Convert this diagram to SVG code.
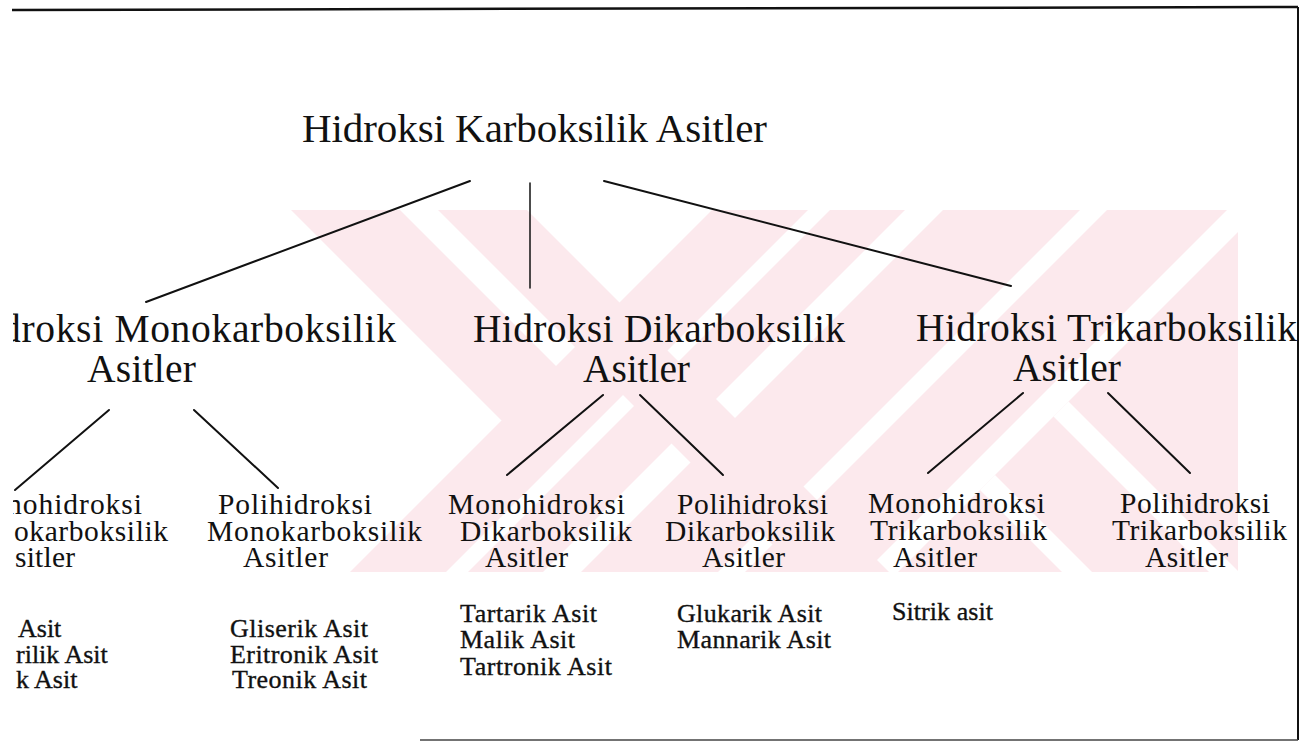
<svg xmlns="http://www.w3.org/2000/svg" width="1305" height="742" viewBox="0 0 1305 742">
<style>
.t{font-family:'Liberation Serif','DejaVu Serif',serif;fill:#111}
.l1{font-size:41px}
.l2{font-size:39.5px}
.l3{font-size:29.5px}
.l4{font-size:26px;stroke:#111;stroke-width:0.35px}
.wm{fill:#fce9ed}
.conn line{stroke:#111;stroke-width:2;stroke-linecap:round}
</style>
<defs>
<clipPath id="wmclip"><rect x="232" y="210" width="1006" height="362"/></clipPath>
<clipPath id="page"><rect x="13" y="0" width="1292" height="742"/></clipPath>
</defs>
<rect x="0" y="0" width="1305" height="742" fill="#fff"/>
<g id="watermark" clip-path="url(#wmclip)">
<polygon class="wm" points="291,210 400,210 604,414 501.5,420.5"/>
<polygon class="wm" points="712,210 808,210 438,580 342,580"/>
<polygon class="wm" points="438,210 527,210 897,580 808,580"/>
<polygon class="wm" points="830,210 905,210 535,580 460,580"/>
<polygon class="wm" points="943,210 1080,210 710,580 573,580"/>
<polygon class="wm" points="1107,210 1227,210 857,580 737,580"/>
<polygon class="wm" points="1260,210 1400,210 1400,580 890,580"/>
<polygon fill="#fff" points="980,490 995,475 1100,580 1070,580"/>
<polygon fill="#fff" points="1053.5,416.5 1068.5,401.5 1247,580 1217,580"/>
</g>
<g id="frame" stroke="#111" fill="none">
<line x1="12" y1="10" x2="1298" y2="7" stroke-width="2.5"/>
<line x1="1298" y1="7" x2="1298" y2="740" stroke-width="2"/>
<line x1="420" y1="740" x2="1298" y2="740" stroke-width="1.5" stroke="#444"/>
</g>
<g clip-path="url(#page)">
<g id="connectors" class="conn">
<line x1="470" y1="181" x2="146" y2="302"/>
<line x1="530" y1="183" x2="530" y2="288" style="stroke-width:1.5"/>
<line x1="604" y1="181" x2="1011" y2="286"/>
<line x1="109" y1="410" x2="15" y2="490"/>
<line x1="194" y1="410" x2="278" y2="488"/>
<line x1="603" y1="395" x2="507" y2="475"/>
<line x1="640" y1="395" x2="723" y2="475"/>
<line x1="1023" y1="393" x2="928" y2="473"/>
<line x1="1108" y1="393" x2="1190" y2="473"/>
</g>
<g class="t">
<g id="root">
<text class="l1" x="302" y="142" textLength="465">Hidroksi Karboksilik Asitler</text>
</g>
<g id="mono">
<text class="l2" x="1" y="342" textLength="395">droksi Monokarboksilik</text>
<text class="l2" x="87" y="382" textLength="109">Asitler</text>
</g>
<g id="di">
<text class="l2" x="473" y="342" textLength="372">Hidroksi Dikarboksilik</text>
<text class="l2" x="583" y="382" textLength="107">Asitler</text>
</g>
<g id="tri">
<text class="l2" x="916" y="341" textLength="381">Hidroksi Trikarboksilik</text>
<text class="l2" x="1013" y="381" textLength="108">Asitler</text>
</g>
<g id="mono-mono">
<text class="l3" x="7" y="514" textLength="135">nohidroksi</text>
<text class="l3" x="14" y="541" textLength="154">okarboksilik</text>
<text class="l3" x="15" y="567" textLength="60">sitler</text>
</g>
<g id="poli-mono">
<text class="l3" x="218" y="514" textLength="154">Polihidroksi</text>
<text class="l3" x="207" y="541" textLength="215">Monokarboksilik</text>
<text class="l3" x="243" y="567" textLength="85">Asitler</text>
</g>
<g id="mono-di">
<text class="l3" x="448" y="514" textLength="177">Monohidroksi</text>
<text class="l3" x="460" y="541" textLength="172">Dikarboksilik</text>
<text class="l3" x="485" y="567" textLength="83">Asitler</text>
</g>
<g id="poli-di">
<text class="l3" x="677" y="514" textLength="151">Polihidroksi</text>
<text class="l3" x="665" y="541" textLength="170">Dikarboksilik</text>
<text class="l3" x="702" y="567" textLength="83">Asitler</text>
</g>
<g id="mono-tri">
<text class="l3" x="868" y="513" textLength="177">Monohidroksi</text>
<text class="l3" x="870" y="540" textLength="177">Trikarboksilik</text>
<text class="l3" x="893" y="567" textLength="84">Asitler</text>
</g>
<g id="poli-tri">
<text class="l3" x="1120" y="513" textLength="150">Polihidroksi</text>
<text class="l3" x="1112" y="540" textLength="175">Trikarboksilik</text>
<text class="l3" x="1145" y="567" textLength="83">Asitler</text>
</g>
<g id="list-mono-mono">
<text class="l4" x="18" y="637">Asit</text>
<text class="l4" x="16" y="663">rilik Asit</text>
<text class="l4" x="16" y="688">k Asit</text>
</g>
<g id="list-poli-mono">
<text class="l4" x="230" y="637" textLength="138">Gliserik Asit</text>
<text class="l4" x="230" y="663" textLength="148">Eritronik Asit</text>
<text class="l4" x="232" y="688" textLength="135">Treonik Asit</text>
</g>
<g id="list-mono-di">
<text class="l4" x="460" y="622" textLength="137">Tartarik Asit</text>
<text class="l4" x="460" y="648" textLength="115">Malik Asit</text>
<text class="l4" x="460" y="675" textLength="152">Tartronik Asit</text>
</g>
<g id="list-poli-di">
<text class="l4" x="677" y="622" textLength="145">Glukarik Asit</text>
<text class="l4" x="677" y="648" textLength="154">Mannarik Asit</text>
</g>
<g id="list-mono-tri">
<text class="l4" x="892" y="620" textLength="101">Sitrik asit</text>
</g>
</g>
</g>
</svg>
